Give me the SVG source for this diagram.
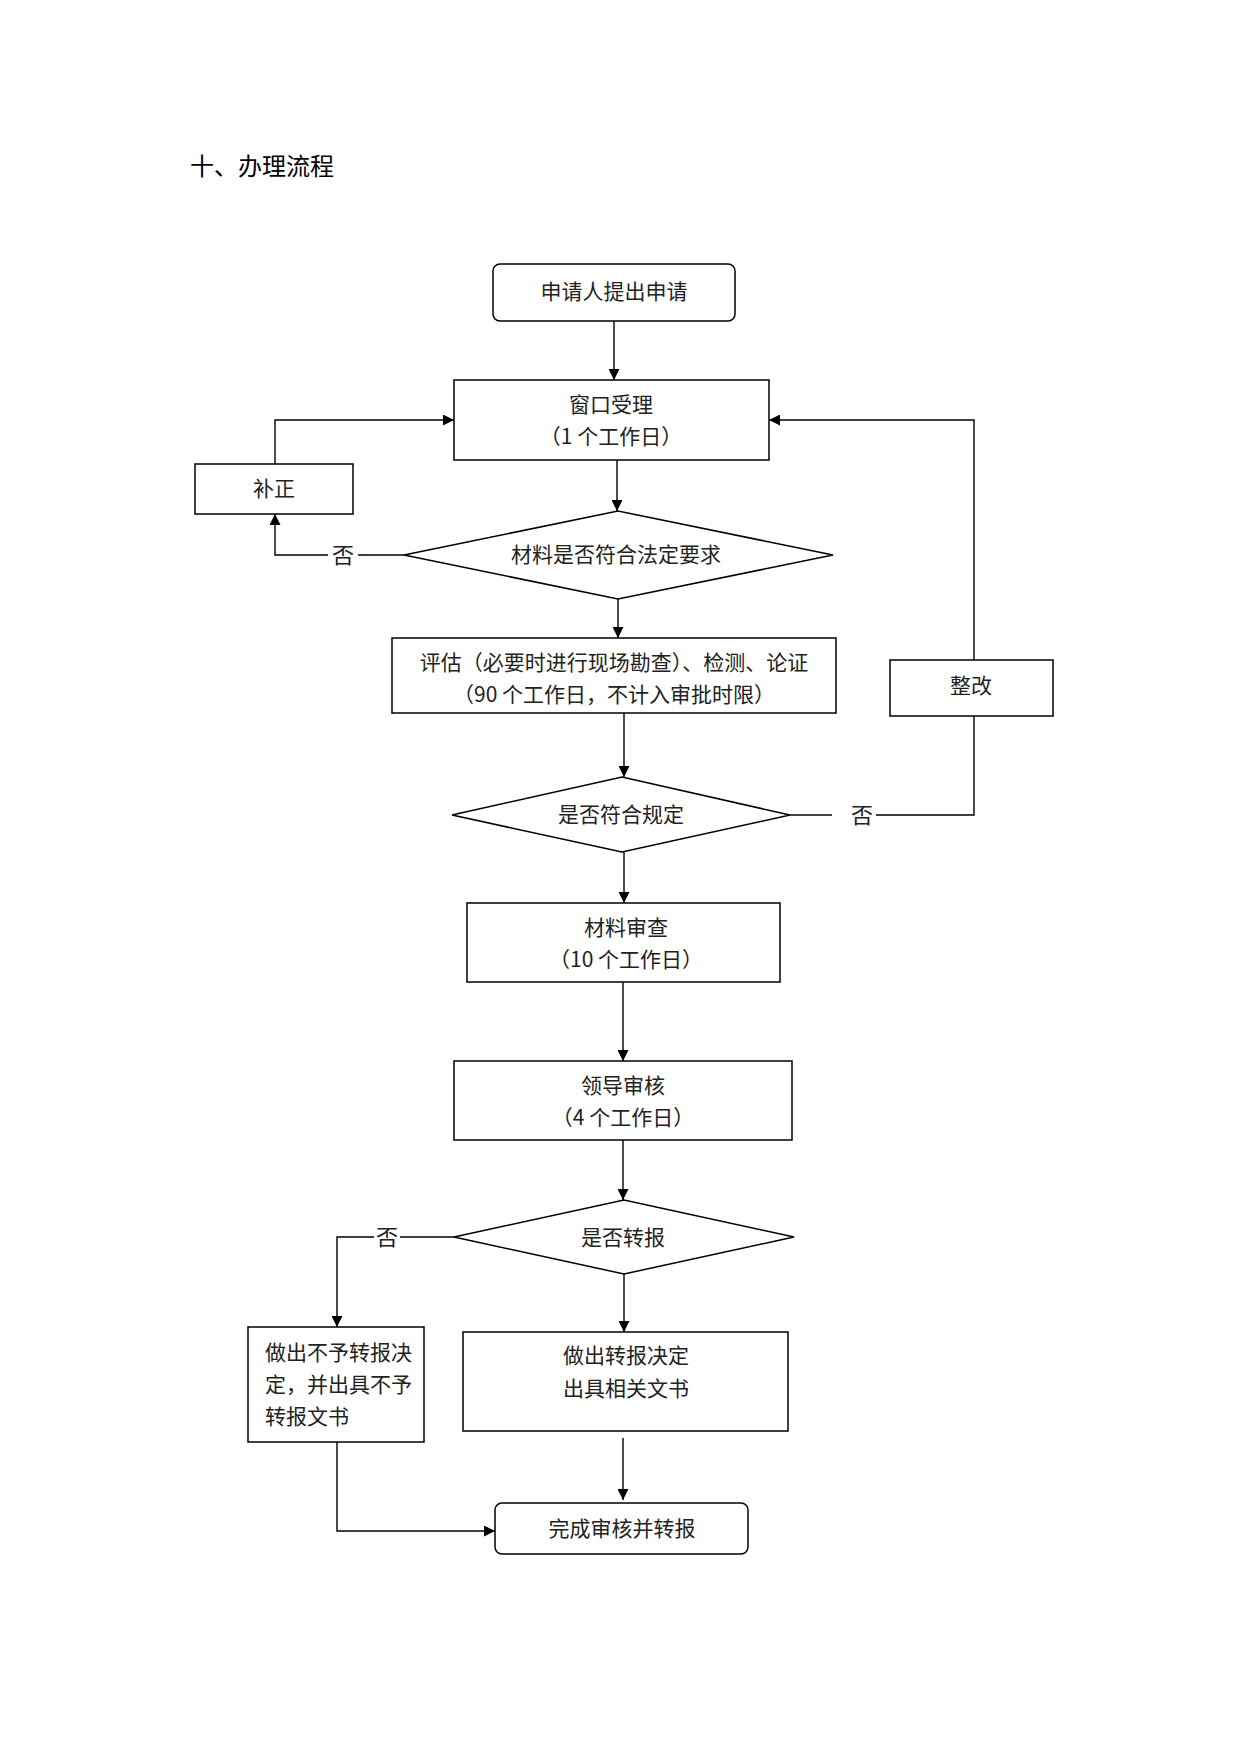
<svg xmlns="http://www.w3.org/2000/svg" width="1240" height="1753" viewBox="0 0 1240 1753">
<style>
.box{fill:#fff;stroke:#000;stroke-width:1.5}
.ln{fill:none;stroke:#000;stroke-width:1.4}
.t{font-family:"Noto Sans CJK SC","Liberation Sans",sans-serif;font-size:21px;fill:#222;text-anchor:middle}
.tl{font-family:"Noto Sans CJK SC","Liberation Sans",sans-serif;font-size:21px;fill:#222}
.no{font-family:"Noto Sans CJK SC",sans-serif;font-size:22px;fill:#222;text-anchor:middle}
.title{font-family:"Noto Sans CJK SC",sans-serif;font-size:24px;fill:#000}
</style>
<defs>
<marker id="ah" viewBox="0 0 10 10" refX="10" refY="5" markerWidth="11" markerHeight="11" markerUnits="userSpaceOnUse" orient="auto">
<path d="M0,0 L10,5 L0,10 Z" fill="#000"/>
</marker>
</defs>
<rect width="1240" height="1753" fill="#fff"/>
<text class="title" x="190" y="175">十、办理流程</text>

<g id="connectors">
<line class="ln" x1="614" y1="321" x2="614" y2="380" marker-end="url(#ah)"/>
<polyline class="ln" points="275,464 275,420 454,420" marker-end="url(#ah)"/>
<line class="ln" x1="617" y1="460" x2="617" y2="511" marker-end="url(#ah)"/>
<line class="ln" x1="404" y1="555" x2="358" y2="555"/>
<polyline class="ln" points="328,555 275,555 275,514" marker-end="url(#ah)"/>
<text class="no" x="343" y="563">否</text>
<line class="ln" x1="618" y1="599" x2="618" y2="638" marker-end="url(#ah)"/>
<line class="ln" x1="624" y1="713" x2="624" y2="777" marker-end="url(#ah)"/>
<line class="ln" x1="790" y1="815" x2="832" y2="815"/>
<polyline class="ln" points="876,815 974,815 974,716"/>
<text class="no" x="862" y="823">否</text>
<polyline class="ln" points="974,660 974,420 769,420" marker-end="url(#ah)"/>
<line class="ln" x1="624" y1="852" x2="624" y2="903" marker-end="url(#ah)"/>
<line class="ln" x1="623" y1="982" x2="623" y2="1061" marker-end="url(#ah)"/>
<line class="ln" x1="623" y1="1140" x2="623" y2="1200" marker-end="url(#ah)"/>
<line class="ln" x1="454" y1="1237" x2="400" y2="1237"/>
<polyline class="ln" points="374,1237 337,1237 337,1327" marker-end="url(#ah)"/>
<text class="no" x="387" y="1245">否</text>
<line class="ln" x1="624" y1="1274" x2="624" y2="1332" marker-end="url(#ah)"/>
<line class="ln" x1="623" y1="1438" x2="623" y2="1500" marker-end="url(#ah)"/>
<polyline class="ln" points="337,1442 337,1531 495,1531" marker-end="url(#ah)"/>
</g>

<g id="n_apply">
<rect class="box" x="493" y="264" width="242" height="57" rx="7"/>
<text class="t" x="614" y="299">申请人提出申请</text>
</g>
<g id="n_window">
<rect class="box" x="454" y="380" width="315" height="80"/>
<text class="t" x="611" y="412">窗口受理</text>
<text class="t" x="611" y="444">（1 个工作日）</text>
</g>
<g id="n_fix">
<rect class="box" x="195" y="464" width="158" height="50"/>
<text class="t" x="274" y="496">补正</text>
</g>
<g id="n_check1">
<polygon class="box" points="404,555 618,511 833,555 618,599"/>
<text class="t" x="616" y="562">材料是否符合法定要求</text>
</g>
<g id="n_eval">
<rect class="box" x="392" y="638" width="444" height="75"/>
<text class="t" x="614" y="670">评估（必要时进行现场勘查）、检测、论证</text>
<text class="t" x="614" y="702">（90 个工作日，不计入审批时限）</text>
</g>
<g id="n_rectify">
<rect class="box" x="890" y="660" width="163" height="56"/>
<text class="t" x="971" y="693">整改</text>
</g>
<g id="n_check2">
<polygon class="box" points="452,815 622,777 790,815 622,852"/>
<text class="t" x="621" y="822">是否符合规定</text>
</g>
<g id="n_review">
<rect class="box" x="467" y="903" width="313" height="79"/>
<text class="t" x="626" y="935">材料审查</text>
<text class="t" x="626" y="967">（10 个工作日）</text>
</g>
<g id="n_leader">
<rect class="box" x="454" y="1061" width="338" height="79"/>
<text class="t" x="623" y="1093">领导审核</text>
<text class="t" x="623" y="1125">（4 个工作日）</text>
</g>
<g id="n_check3">
<polygon class="box" points="454,1237 624,1200 794,1237 624,1274"/>
<text class="t" x="623" y="1245">是否转报</text>
</g>
<g id="n_reject">
<rect class="box" x="248" y="1327" width="176" height="115"/>
<text class="tl" x="265" y="1360">做出不予转报决</text>
<text class="tl" x="265" y="1392">定，并出具不予</text>
<text class="tl" x="265" y="1424">转报文书</text>
</g>
<g id="n_approve">
<rect class="box" x="463" y="1332" width="325" height="99"/>
<text class="t" x="626" y="1363">做出转报决定</text>
<text class="t" x="626" y="1396">出具相关文书</text>
</g>
<g id="n_done">
<rect class="box" x="495" y="1503" width="253" height="51" rx="7"/>
<text class="t" x="622" y="1536">完成审核并转报</text>
</g>
</svg>
